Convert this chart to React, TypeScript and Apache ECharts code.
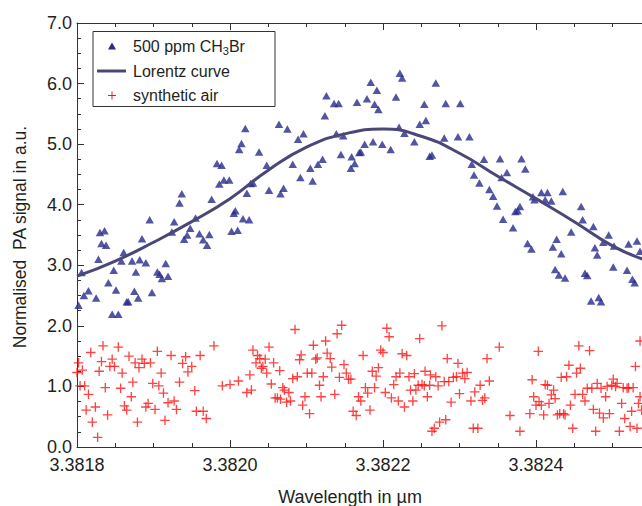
import React, { useEffect, useRef } from "react";
import * as echarts from "echarts";

// ---- data ----
// x: wavelength in µm, y: normalised PA signal in a.u.
const xTickValues = [3.3818, 3.382, 3.3822, 3.3824];
const yTickValues = [0, 1, 2, 3, 4, 5, 6, 7];

const methylBromidePoints: [number, number][] = [
  [3.381802,2.34],[3.381806,2.88],[3.381809,2.50],[3.381815,2.58],[3.381825,2.46],[3.381828,3.10],[3.381830,3.54],[3.381836,3.57],[3.381832,3.36],[3.381838,3.33],
  [3.381841,2.71],[3.381846,2.19],[3.381854,2.19],[3.381848,2.92],[3.381851,2.59],[3.381858,3.07],[3.381861,3.21],[3.381865,2.40],[3.381867,2.40],[3.381872,3.07],
  [3.381875,2.57],[3.381877,2.89],[3.381880,2.46],[3.381882,3.09],[3.381885,3.44],[3.381890,3.04],[3.381895,3.75],[3.381898,2.55],[3.381905,2.89],[3.381908,2.85],
  [3.381911,2.78],[3.381916,3.03],[3.381919,2.82],[3.381924,3.55],[3.381927,3.72],[3.381934,4.03],[3.381937,4.18],[3.381940,3.43],[3.381944,3.50],[3.381948,3.61],
  [3.381955,3.78],[3.381960,3.52],[3.381965,3.42],[3.381970,3.33],[3.381973,3.51],[3.381976,4.09],[3.381983,4.68],[3.381989,4.65],[3.381986,4.34],[3.381992,4.41],
  [3.381999,4.41],[3.382002,3.56],[3.382005,3.86],[3.382007,3.90],[3.382010,3.58],[3.382012,4.91],[3.382015,5.01],[3.382017,3.77],[3.382020,5.26],[3.382022,4.19],
  [3.382025,3.75],[3.382027,4.35],[3.382030,4.36],[3.382038,4.87],[3.382048,4.65],[3.382051,4.24],[3.382064,5.33],[3.382066,4.18],[3.382070,4.27],[3.382075,5.25],
  [3.382082,4.67],[3.382089,5.08],[3.382092,4.45],[3.382096,5.17],[3.382105,4.60],[3.382108,4.39],[3.382115,4.67],[3.382121,4.75],[3.382124,5.47],[3.382126,5.80],
  [3.382136,5.67],[3.382142,5.67],[3.382139,5.17],[3.382145,4.83],[3.382148,5.14],[3.382158,4.60],[3.382159,4.79],[3.382163,4.68],[3.382166,5.69],[3.382169,4.86],
  [3.382171,4.87],[3.382176,5.00],[3.382179,5.75],[3.382184,6.02],[3.382187,5.04],[3.382189,5.66],[3.382192,5.89],[3.382194,5.57],[3.382199,5.00],[3.382210,4.91],
  [3.382217,5.78],[3.382221,5.28],[3.382222,6.17],[3.382225,6.09],[3.382228,5.18],[3.382241,5.04],[3.382248,5.33],[3.382254,5.66],[3.382256,5.39],[3.382261,4.80],
  [3.382264,4.82],[3.382269,6.01],[3.382280,5.10],[3.382282,5.67],[3.382298,5.12],[3.382301,5.67],[3.382313,5.12],[3.382316,4.67],[3.382319,4.49],[3.382326,4.36],
  [3.382332,4.75],[3.382339,4.25],[3.382344,4.14],[3.382349,3.98],[3.382353,4.76],[3.382355,4.45],[3.382357,3.76],[3.382362,4.53],[3.382370,3.62],[3.382373,3.89],
  [3.382376,3.90],[3.382379,3.97],[3.382381,4.76],[3.382386,4.59],[3.382389,3.36],[3.382394,3.27],[3.382396,4.13],[3.382398,4.08],[3.382407,4.20],[3.382412,4.08],
  [3.382415,4.20],[3.382420,4.06],[3.382422,3.30],[3.382425,2.93],[3.382427,3.43],[3.382430,2.84],[3.382433,3.19],[3.382435,4.22],[3.382438,2.79],[3.382446,3.55],
  [3.382459,3.97],[3.382461,3.75],[3.382464,2.87],[3.382467,2.83],[3.382472,2.41],[3.382475,3.64],[3.382477,3.29],[3.382480,3.17],[3.382482,2.47],[3.382485,2.40],
  [3.382488,3.38],[3.382495,3.50],[3.382501,2.97],[3.382502,3.32],[3.382519,2.92],[3.382521,3.35],[3.382526,2.77],[3.382529,2.71],[3.382532,3.40],[3.382536,3.23],
];

const syntheticAirPoints: [number, number][] = [
  [3.381800,1.23],[3.381802,1.39],[3.381804,1.01],[3.381807,1.27],[3.381810,1.01],[3.381812,0.61],[3.381815,0.87],[3.381818,1.56],[3.381820,0.41],[3.381824,0.66],
  [3.381827,0.16],[3.381829,1.25],[3.381832,1.41],[3.381834,1.67],[3.381837,0.98],[3.381840,0.53],[3.381843,1.33],[3.381846,1.45],[3.381849,1.33],[3.381854,1.65],
  [3.381857,0.97],[3.381859,1.22],[3.381862,0.68],[3.381865,0.61],[3.381868,1.50],[3.381871,0.83],[3.381873,1.07],[3.381876,1.39],[3.381879,0.41],[3.381881,1.31],
  [3.381885,1.45],[3.381888,1.38],[3.381890,0.66],[3.381893,0.72],[3.381896,1.39],[3.381899,1.05],[3.381902,0.62],[3.381905,1.58],[3.381907,1.01],[3.381910,1.22],
  [3.381913,0.89],[3.381915,0.44],[3.381919,0.73],[3.381923,1.51],[3.381927,0.76],[3.381930,0.62],[3.381934,1.07],[3.381938,1.38],[3.381942,1.49],[3.381945,1.24],
  [3.381950,1.33],[3.381954,0.93],[3.381956,0.59],[3.381961,1.51],[3.381965,0.59],[3.381969,0.47],[3.381979,1.67],[3.381990,1.01],[3.382000,1.03],[3.382011,1.09],
  [3.382022,0.90],[3.382026,1.19],[3.382028,0.94],[3.382030,1.60],[3.382034,1.39],[3.382036,1.51],
  [3.382039,1.46],[3.382043,1.33],[3.382046,1.45],[3.382041,1.30],[3.382048,1.22],[3.382051,1.65],[3.382054,1.04],[3.382057,1.39],[3.382059,0.81],[3.382062,0.81],
  [3.382065,1.26],[3.382066,0.79],[3.382069,0.98],[3.382071,0.94],[3.382074,0.74],[3.382077,0.90],[3.382079,0.76],[3.382082,1.13],[3.382085,1.94],[3.382088,1.16],
  [3.382091,1.44],[3.382093,1.52],[3.382095,0.69],[3.382098,0.83],[3.382101,1.22],[3.382104,0.55],[3.382107,1.22],[3.382109,1.68],[3.382112,1.45],[3.382114,1.47],
  [3.382117,1.02],[3.382119,0.83],[3.382122,1.16],[3.382125,1.75],[3.382127,1.55],[3.382131,1.46],[3.382133,1.32],[3.382137,0.87],[3.382140,1.87],[3.382143,1.15],
  [3.382146,2.01],[3.382149,1.36],[3.382152,1.22],[3.382155,1.12],[3.382158,1.12],[3.382161,0.59],[3.382165,0.52],[3.382168,0.83],[3.382171,0.76],[3.382174,1.51],
  [3.382177,0.98],[3.382180,0.89],[3.382183,0.61],[3.382186,1.25],[3.382189,0.98],[3.382191,1.17],[3.382194,1.31],[3.382197,1.60],[3.382200,1.56],[3.382203,0.90],
  [3.382205,1.96],[3.382208,1.82],[3.382211,0.81],[3.382214,1.03],[3.382217,1.16],[3.382220,0.76],[3.382222,1.22],[3.382225,1.54],[3.382228,0.66],[3.382231,1.51],
  [3.382234,1.16],[3.382236,0.94],[3.382239,0.76],[3.382241,1.21],[3.382243,0.94],[3.382246,1.02],[3.382248,1.79],[3.382251,1.03],[3.382254,1.01],[3.382255,1.25],
  [3.382258,0.83],[3.382261,1.02],[3.382262,1.19],[3.382264,0.26],[3.382267,0.31],[3.382269,1.16],[3.382272,1.01],[3.382274,0.41],[3.382277,2.00],[3.382280,1.08],
  [3.382282,0.45],[3.382284,1.46],[3.382286,1.08],[3.382289,0.74],[3.382292,1.15],[3.382296,1.16],[3.382298,1.38],[3.382300,0.88],
  [3.382304,1.22],[3.382307,1.13],[3.382310,1.23],[3.382315,0.76],[3.382318,0.31],[3.382320,0.91],[3.382324,0.31],[3.382327,1.02],[3.382330,0.77],[3.382333,0.81],
  [3.382336,1.46],[3.382339,1.09],[3.382352,1.65],[3.382366,0.52],[3.382379,0.26],[3.382392,0.55],[3.382395,1.11],[3.382397,0.83],[3.382400,0.69],[3.382403,1.58],
  [3.382404,0.75],[3.382407,0.69],[3.382410,0.53],[3.382412,1.03],[3.382415,1.02],[3.382417,0.72],[3.382420,0.86],[3.382423,0.94],[3.382425,0.80],[3.382428,0.53],
  [3.382431,0.55],[3.382433,1.15],[3.382436,0.55],[3.382438,0.53],[3.382440,1.16],[3.382443,1.35],[3.382445,0.69],[3.382448,0.31],[3.382451,0.87],[3.382453,1.22],
  [3.382456,1.67],[3.382458,1.30],[3.382461,0.87],[3.382464,0.76],[3.382467,0.97],[3.382470,1.59],[3.382473,0.97],[3.382475,0.62],[3.382478,0.26],[3.382480,1.05],
  [3.382483,0.56],[3.382485,0.97],[3.382488,0.48],[3.382491,0.83],[3.382493,1.00],[3.382496,0.55],[3.382499,1.02],[3.382501,1.12],[3.382504,1.00],[3.382506,1.05],
  [3.382509,0.26],[3.382512,0.72],[3.382514,0.98],[3.382516,0.47],[3.382519,0.97],[3.382521,0.98],[3.382523,0.34],[3.382525,0.59],[3.382527,0.98],[3.382530,1.33],
  [3.382532,0.31],[3.382534,0.72],[3.382536,0.83],[3.382538,0.61],[3.382536,1.75],
];

const lorentzX = [3.3818, 3.38185, 3.3819, 3.38195, 3.382, 3.38205, 3.3821, 3.38215, 3.3822, 3.38225, 3.3823, 3.38235, 3.3824, 3.38245, 3.3825, 3.38254];
const lorentzY = [2.82, 3.07, 3.38, 3.72, 4.10, 4.57, 4.95, 5.17, 5.25, 5.13, 4.85, 4.47, 4.10, 3.72, 3.32, 3.10];

const seriesNames = ["500 ppm CH3Br", "Lorentz curve", "synthetic air"];
const xTitle = "Wavelength in \u00b5m";
const yTitle = "Normalised  PA signal in a.u.";

// ---- styling ----
const FONT = "'Liberation Sans', Arial, Helvetica, sans-serif";
const AXIS = "#333333";
const TEXT = "#231f20";
const BLUE = "#272b8c";
const CURVE = "#4a4878";
const RED = "#ff1414";
const PLUS = "path://M4.3,0H5.7V4.3H10V5.7H5.7V10H4.3V5.7H0V4.3H4.3Z";

export default function App() {
  const ref = useRef<HTMLDivElement>(null);

  useEffect(() => {
    if (!ref.current) return;
    const chart = echarts.init(ref.current, undefined, { renderer: "svg" });

    const xMin = xTickValues[0];
    const xStep = xTickValues[1] - xTickValues[0];
    const xMax = 3.3826; // plot area continues past the visible right edge

    const baseX = {
      type: "value" as const,
      min: xMin,
      max: xMax,
      interval: xStep,
      splitLine: { show: false },
      axisLine: { show: true, onZero: false, lineStyle: { color: AXIS, width: 1 } },
      axisTick: { show: true, inside: true, length: 7, lineStyle: { color: AXIS, width: 1 } },
      minorTick: { show: true, splitNumber: 4, length: 4, lineStyle: { color: AXIS, width: 1 } },
    };

    const option: any = {
      animation: false,
      backgroundColor: "#ffffff",
      grid: {
        left: 77,
        top: 23,
        width: 612,
        height: 424,
        containLabel: false,
        outerBoundsMode: "none",
      },
      xAxis: [
        {
          ...baseX,
          position: "bottom",
          axisLabel: {
            show: true,
            margin: 9,
            fontSize: 18,
            fontFamily: FONT,
            color: TEXT,
            showMaxLabel: false,
            formatter: (v: number) => {
              const s = v.toFixed(4);
              return xTickValues.some((t) => t.toFixed(4) === s) ? s : "";
            },
          },
        },
        {
          ...baseX,
          position: "top",
          axisLabel: { show: false },
        },
      ],
      yAxis: {
        type: "value",
        min: yTickValues[0],
        max: yTickValues[yTickValues.length - 1],
        interval: yTickValues[1] - yTickValues[0],
        splitLine: { show: false },
        axisLine: { show: true, onZero: false, lineStyle: { color: AXIS, width: 1 } },
        axisTick: { show: true, inside: true, length: 7, lineStyle: { color: AXIS, width: 1 } },
        minorTick: { show: true, splitNumber: 4, length: 4, lineStyle: { color: AXIS, width: 1 } },
        axisLabel: {
          margin: 5,
          fontSize: 18,
          fontFamily: FONT,
          color: TEXT,
          formatter: (v: number) => v.toFixed(1),
        },
      },
      series: [
        {
          name: seriesNames[0],
          type: "scatter",
          xAxisIndex: 0,
          symbol: "triangle",
          symbolSize: [8.5, 7.5],
          itemStyle: { color: BLUE },
          data: methylBromidePoints,
          z: 2,
        },
        {
          name: seriesNames[2],
          type: "scatter",
          xAxisIndex: 0,
          symbol: PLUS,
          symbolSize: 9.5,
          itemStyle: { color: RED },
          data: syntheticAirPoints,
          z: 2,
        },
        {
          name: seriesNames[1],
          type: "line",
          xAxisIndex: 0,
          smooth: true,
          showSymbol: false,
          symbol: "none",
          lineStyle: { color: CURVE, width: 3 },
          data: lorentzX.map((x, i) => [x, lorentzY[i]]),
          z: 3,
        },
      ],
      graphic: [
        // legend box
        {
          type: "rect",
          shape: { x: 93, y: 31.5, width: 182, height: 75 },
          style: { fill: "#ffffff", stroke: AXIS, lineWidth: 1 },
          z: 10,
        },
        {
          type: "polygon",
          shape: { points: [[112, 42.5], [108, 49.5], [116, 49.5]] },
          style: { fill: BLUE },
          z: 11,
        },
        {
          type: "line",
          shape: { x1: 97, y1: 71, x2: 126, y2: 71 },
          style: { stroke: CURVE, lineWidth: 3 },
          z: 11,
        },
        {
          type: "line",
          shape: { x1: 112, y1: 91.5, x2: 112, y2: 99.5 },
          style: { stroke: RED, lineWidth: 1 },
          z: 11,
        },
        {
          type: "line",
          shape: { x1: 108, y1: 95.5, x2: 116, y2: 95.5 },
          style: { stroke: RED, lineWidth: 1 },
          z: 11,
        },
        {
          type: "text",
          x: 133,
          y: 46,
          style: {
            text: "500 ppm CH{sub|3}Br",
            fontSize: 16,
            fontFamily: FONT,
            fill: TEXT,
            verticalAlign: "middle",
            align: "left",
            rich: {
              sub: { fontSize: 11, fontFamily: FONT, fill: TEXT, padding: [9, 0, 0, 0] },
            },
          },
          z: 11,
        },
        {
          type: "text",
          x: 133,
          y: 71,
          style: { text: seriesNames[1], fontSize: 16, fontFamily: FONT, fill: TEXT, verticalAlign: "middle", align: "left" },
          z: 11,
        },
        {
          type: "text",
          x: 133,
          y: 95,
          style: { text: seriesNames[2], fontSize: 16, fontFamily: FONT, fill: TEXT, verticalAlign: "middle", align: "left" },
          z: 11,
        },
        // axis titles
        {
          type: "text",
          x: 350,
          y: 497,
          style: { text: xTitle, fontSize: 18, fontFamily: FONT, fill: TEXT, align: "center", verticalAlign: "middle" },
        },
        {
          type: "text",
          x: 20,
          y: 237,
          rotation: Math.PI / 2,
          style: { text: yTitle, fontSize: 17.5, fontFamily: FONT, fill: TEXT, align: "center", verticalAlign: "middle" },
        },
      ],
    };

    chart.setOption(option);
    return () => chart.dispose();
  }, []);

  return (
    <div
      ref={ref}
      style={{ position: "fixed", left: 0, top: 0, width: 642, height: 506, background: "#fff" }}
    />
  );
}
